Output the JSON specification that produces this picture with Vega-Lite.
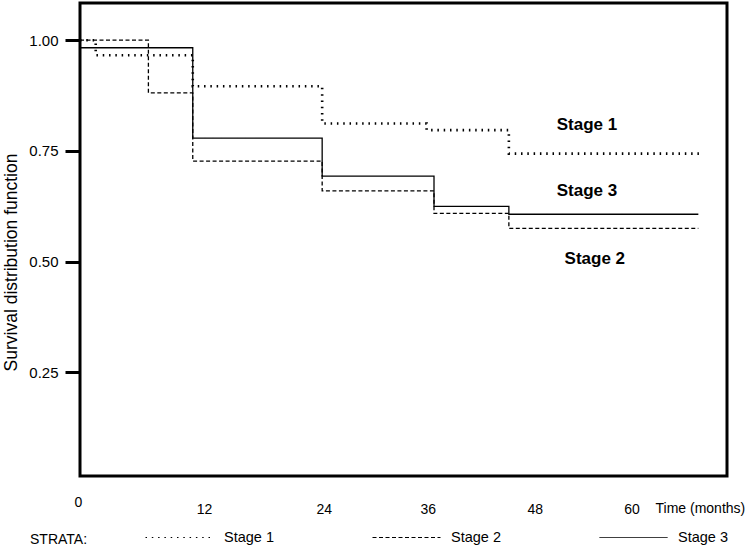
{
  "$schema": "https://vega.github.io/schema/vega-lite/v6.json",
  "width": 647,
  "height": 473,
  "autosize": {"type": "none"},
  "padding": {"left": 80, "top": 3, "right": 19, "bottom": 71},
  "background": "white",
  "config": {
    "view": {"stroke": "black", "strokeWidth": 3},
    "font": "Liberation Sans"
  },
  "encoding": {
    "x": {
      "field": "t",
      "type": "quantitative",
      "scale": {"domain": [0, 70], "nice": false, "zero": false},
      "axis": {
        "values": [0, 12, 24, 36, 48, 60],
        "grid": false,
        "ticks": false,
        "domain": false,
        "labelFlush": false,
        "labelOverlap": false,
        "labelFontSize": 14,
        "labelColor": "black",
        "labelBaseline": "alphabetic",
        "labelPadding": {"condition": {"test": "datum.value == 0", "value": 30}, "value": 37},
        "labelOffset": {
          "condition": [
            {"test": "datum.value == 0", "value": -2},
            {"test": "datum.value == 12", "value": 13},
            {"test": "datum.value == 24", "value": 22},
            {"test": "datum.value == 36", "value": 15},
            {"test": "datum.value == 48", "value": 11}
          ],
          "value": -3
        },
        "title": "Time (months)",
        "titleFontSize": 14,
        "titleFontWeight": "normal",
        "titleColor": "black",
        "titleX": 575,
        "titleY": 36,
        "titleAlign": "left",
        "titleBaseline": "alphabetic",
        "titleAnchor": "start"
      }
    },
    "y": {
      "field": "s",
      "type": "quantitative",
      "scale": {"domain": [0.016, 1.084], "nice": false, "zero": false},
      "axis": {
        "values": [0.25, 0.5, 0.75, 1.0],
        "format": ".2f",
        "grid": false,
        "domain": false,
        "tickSize": 15,
        "tickWidth": 3,
        "tickColor": "black",
        "labelFontSize": 15,
        "labelColor": "black",
        "labelPadding": 7,
        "labelBaseline": "middle",
        "title": "Survival distribution function",
        "titleFontSize": 17.5,
        "titleFontWeight": "normal",
        "titleColor": "black",
        "titleAngle": -90,
        "titleX": -64,
        "titleY": 259,
        "titleAlign": "center",
        "titleBaseline": "alphabetic"
      }
    }
  },
  "layer": [
    {
      "data": {
        "values": [
          {"stage": "Stage 1", "t": 0, "s": 1.0},
          {"stage": "Stage 1", "t": 1.7, "s": 0.966},
          {"stage": "Stage 1", "t": 12.2, "s": 0.896},
          {"stage": "Stage 1", "t": 26.2, "s": 0.812},
          {"stage": "Stage 1", "t": 37.5, "s": 0.797},
          {"stage": "Stage 1", "t": 46.4, "s": 0.744},
          {"stage": "Stage 1", "t": 67.4, "s": 0.744},
          {"stage": "Stage 2", "t": 0, "s": 1.0},
          {"stage": "Stage 2", "t": 7.4, "s": 0.881},
          {"stage": "Stage 2", "t": 12.2, "s": 0.727},
          {"stage": "Stage 2", "t": 26.2, "s": 0.66},
          {"stage": "Stage 2", "t": 38.3, "s": 0.609},
          {"stage": "Stage 2", "t": 46.4, "s": 0.575},
          {"stage": "Stage 2", "t": 66.9, "s": 0.575},
          {"stage": "Stage 3", "t": 0, "s": 0.983},
          {"stage": "Stage 3", "t": 12.2, "s": 0.779},
          {"stage": "Stage 3", "t": 26.2, "s": 0.693},
          {"stage": "Stage 3", "t": 38.3, "s": 0.625},
          {"stage": "Stage 3", "t": 46.4, "s": 0.607},
          {"stage": "Stage 3", "t": 66.9, "s": 0.607}
        ]
      },
      "mark": {"type": "line", "interpolate": "step-after", "color": "black"},
      "encoding": {
        "strokeDash": {
          "field": "stage",
          "type": "nominal",
          "scale": {
            "domain": ["Stage 1", "Stage 2", "Stage 3"],
            "range": [[1.5, 4.8], [4, 2.5], [1, 0]]
          },
          "legend": {
            "orient": "none",
            "legendX": -50,
            "legendY": 500,
            "direction": "horizontal",
            "title": "STRATA:",
            "titleOrient": "left",
            "titleAnchor": "middle",
            "titleBaseline": "middle",
            "titleFontSize": 14,
            "titleFontWeight": "normal",
            "titleColor": "black",
            "titlePadding": 57,
            "labelFontSize": 14.5,
            "labelColor": "black",
            "labelOffset": 10,
            "columnPadding": 96,
            "symbolType": "stroke",
            "symbolSize": 4624,
            "symbolStrokeWidth": 1,
            "symbolStrokeColor": "black",
            "encode": {"title": {"update": {"dy": {"value": 16}}}}
          }
        },
        "strokeWidth": {
          "condition": {"test": "datum.stage === 'Stage 1'", "value": 2.6},
          "value": 1.3
        }
      }
    },
    {
      "data": {
        "values": [
          {"label": "Stage 1", "t": 54.85, "s": 0.808},
          {"label": "Stage 3", "t": 54.85, "s": 0.659},
          {"label": "Stage 2", "t": 55.7, "s": 0.505}
        ]
      },
      "mark": {"type": "text", "fontWeight": "bold", "fontSize": 17, "color": "black", "align": "center", "baseline": "middle"},
      "encoding": {
        "text": {"field": "label"}
      }
    }
  ]
}
